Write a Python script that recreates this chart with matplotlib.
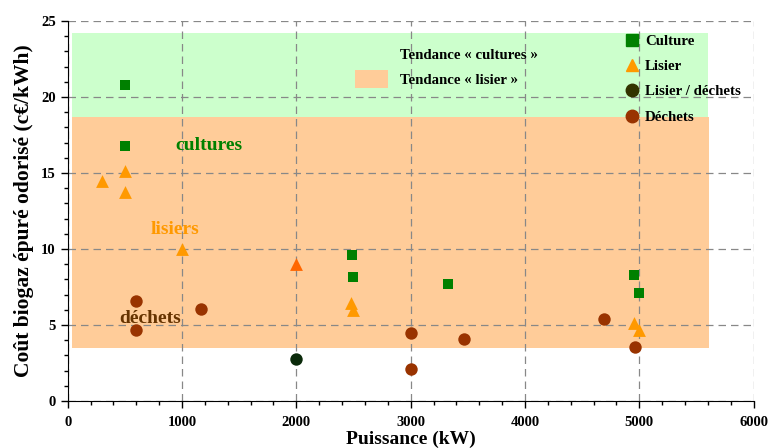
import matplotlib
matplotlib.use('Agg')
import matplotlib.pyplot as plt
from matplotlib.patches import Patch
from matplotlib.lines import Line2D

plt.rcParams['font.family'] = ['Liberation Serif', 'DejaVu Serif']
plt.rcParams['font.weight'] = 'bold'
plt.rcParams['axes.labelweight'] = 'bold'

# data
culture_x = [500, 500, 2485, 2500, 3330, 4950, 5000]
culture_y = [20.8, 16.8, 9.6, 8.15, 7.7, 8.3, 7.1]

lisier_x = [300, 500, 500, 1000, 2475, 2500, 4950, 5000]
lisier_y = [14.5, 15.1, 13.75, 10.0, 6.45, 6.0, 5.1, 4.7]

lisier2_x = [2000]
lisier2_y = [9.0]

mixte_x = [2000]
mixte_y = [2.75]

dechets_x = [600, 600, 1165, 3000, 3000, 3465, 4690, 4960]
dechets_y = [6.6, 4.65, 6.05, 4.5, 2.1, 4.1, 5.4, 3.55]

band_cultures = (35, 5600, 18.7, 24.2)
band_lisier = (35, 5610, 3.5, 18.7)

c_green = '#008000'
c_orange = '#FF9900'
c_red = '#FF6600'
c_dark = '#0A2A0A'
c_brown = '#993300'
c_band_g = '#CCFFCC'
c_band_o = '#FFCC99'

fig = plt.figure(figsize=(7.69, 4.48), dpi=100)
ax = fig.add_axes([0.088, 0.105, 0.892, 0.848])

for (x0, x1, y0, y1), col in [(band_cultures, c_band_g), (band_lisier, c_band_o)]:
    ax.fill_between([x0, x1], y0, y1, color=col, lw=0, zorder=0.2)

ax.scatter(culture_x, culture_y, marker='s', s=62, color=c_green, zorder=3, lw=0)
ax.scatter(lisier_x, lisier_y, marker='^', s=85, color=c_orange, zorder=3, lw=0)
ax.scatter(lisier2_x, lisier2_y, marker='^', s=85, color=c_red, zorder=3, lw=0)
ax.scatter(mixte_x, mixte_y, marker='o', s=80, color=c_dark, zorder=3, lw=0)
ax.scatter(dechets_x, dechets_y, marker='o', s=80, color=c_brown, zorder=3, lw=0)

ax.text(1240, 16.8, 'cultures', color=c_green, fontsize=14, ha='center', va='center')
ax.text(935, 11.3, 'lisiers', color=c_orange, fontsize=14, ha='center', va='center')
ax.text(725, 5.45, 'déchets', color='#663300', fontsize=14, ha='center', va='center')

ax.set_xlim(0, 6000)
ax.set_ylim(0, 25)
ax.set_xticks(range(0, 6001, 1000))
ax.set_xticks(range(0, 6001, 200), minor=True)
ax.set_yticks(range(0, 26, 5))
ax.set_yticks(range(0, 26, 1), minor=True)
ax.tick_params(labelsize=10.5, length=5, width=1)
ax.tick_params(axis='x', pad=6)
ax.tick_params(which='minor', length=3, width=1)
ax.grid(True, which='major', ls=(0, (6, 4)), color='#888888', lw=0.9)
ax.set_axisbelow(True)
for s in ['top', 'right']:
    ax.spines[s].set_visible(False)

ax.set_xlabel('Puissance (kW)', fontsize=14, labelpad=1)
ax.set_ylabel('Coût biogaz épuré odorisé (c€/kWh)', fontsize=15.5, labelpad=5)

h1 = [Line2D([], [], ls='', marker='s', ms=8, color=c_green),
      Line2D([], [], ls='', marker='^', ms=9, color=c_orange),
      Line2D([], [], ls='', marker='o', ms=9, color='#333300'),
      Line2D([], [], ls='', marker='o', ms=9, color=c_brown)]
leg1 = ax.legend(h1, ['Culture', 'Lisier', 'Lisier / déchets', 'Déchets'],
                 loc='upper left', bbox_to_anchor=(0.79, 1.0), frameon=False,
                 prop={'size': 10.7, 'weight': 'bold'}, handletextpad=0.3,
                 labelspacing=0.8, handlelength=1.2)
ax.add_artist(leg1)

h2 = [Patch(facecolor=c_band_g, edgecolor='none'),
      Patch(facecolor=c_band_o, edgecolor='none')]
ax.legend(h2, ['Tendance « cultures »', 'Tendance « lisier »'],
          loc='upper left', bbox_to_anchor=(0.4, 0.97), frameon=False,
          prop={'size': 10.7, 'weight': 'bold'}, handletextpad=0.8,
          labelspacing=0.5, handlelength=2.2, handleheight=1.4)

fig.savefig('out.png', dpi=100)
